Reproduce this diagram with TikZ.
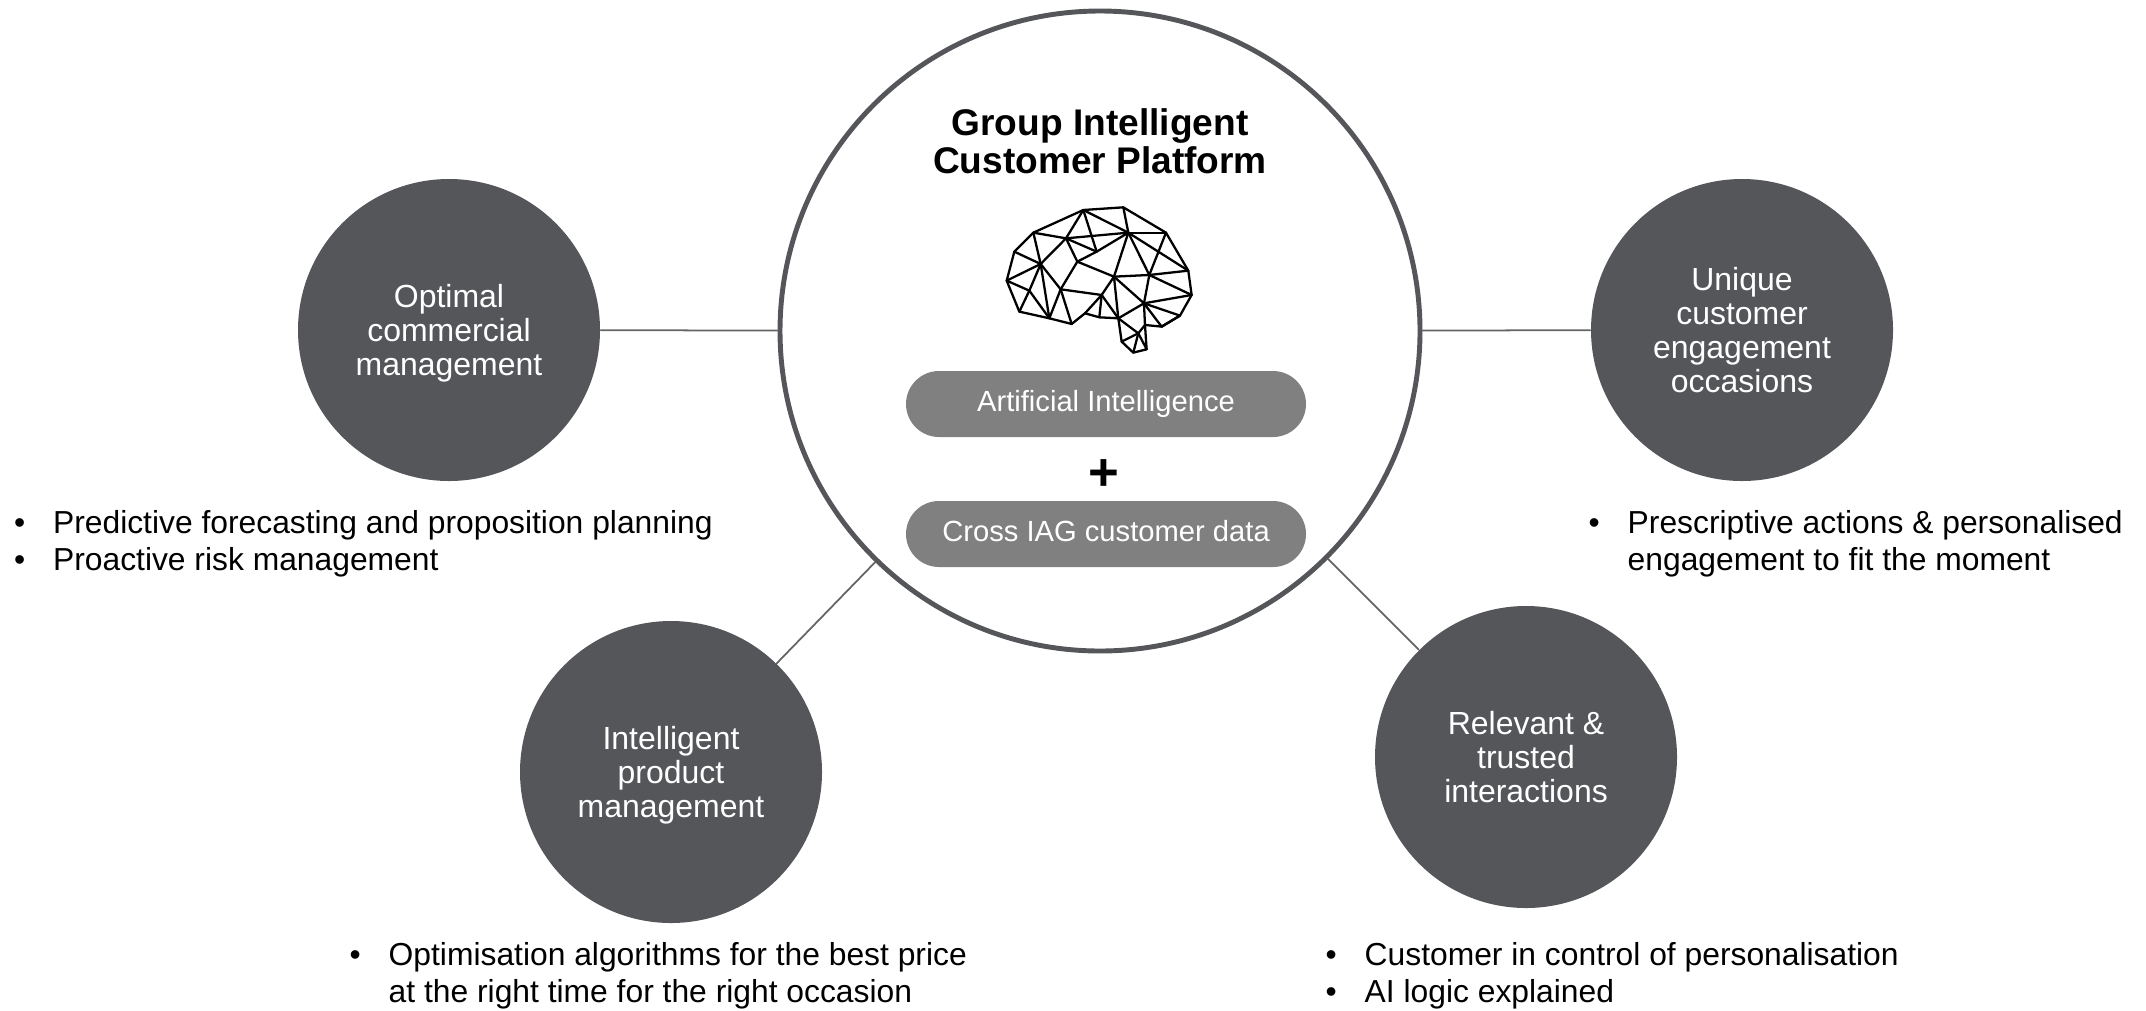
\documentclass[tikz,border=0pt]{standalone}
\usepackage{fontspec}
\setmainfont{Liberation Sans}
\usepackage{xcolor}

\definecolor{discgray}{RGB}{84,86,90}
\definecolor{pillgray}{RGB}{128,128,128}
\definecolor{linkgray}{RGB}{100,100,100}

\tikzset{
  disc/.style={circle,fill=discgray,minimum size=3.02cm,inner sep=0pt,
    text=white,text depth=0pt,align=center,font=\fontsize{9.1}{9.7}\selectfont},
  pill/.style={rectangle,rounded corners=3.3mm,fill=pillgray,minimum width=4cm,
    minimum height=0.66cm,text=white,text height=6.1pt,text depth=1.7pt,
    font=\fontsize{8.3}{10}\selectfont},
  link/.style={linkgray,line width=0.5pt},
  bullets/.style={anchor=north west,inner sep=0pt,align=left,
    font=\fontsize{9.05}{10.5}\selectfont},
  wire/.style={line width=0.65pt,line join=round},
}
\newcommand{\bul}{\makebox[0.39cm][l]{\textbullet}}

\begin{document}
\begin{tikzpicture}[line cap=round]
\useasboundingbox (0,0) rectangle (21.46,-10.10);

% central platform ring
\node[circle,draw=discgray,line width=1.4pt,minimum size=6.40cm] (gicp) at (11.00,-3.31) {};
\node[font=\fontsize{10.55}{10.8}\selectfont\bfseries,align=center] (title) at (11.00,-1.415)
  {Group Intelligent\\Customer Platform};

% brain icon
\begin{scope}[shift={(9.90,-1.90)},x=0.03333mm,y=-0.03333mm]
\foreach \n/\x/\y in {1/280/60,2/400/52,3/130/128,4/228/145,5/415/128,6/528/128,
    7/73/185,8/320/185,9/152/222,10/262/215,11/595/242,12/50/272,13/372/260,
    14/478/255,15/118/302,16/212/298,17/335/315,18/605/315,19/462/340,20/88/365,
    21/178/385,22/245/402,23/285/370,24/328/382,25/385/385,26/570/377,27/465/405,
    28/515/410,29/445/430,30/395/455,31/430/488,32/470/478}
  \coordinate (n\n) at (\x,\y);
% outline
\draw[wire] (n1) -- (n2) -- (n6) -- (n11) -- (n18) -- (n26) -- (n28) -- (n27) -- (n29)
  -- (n32) -- (n31) -- (n30) -- (n25) -- (n24) -- (n23) -- (n22) -- (n21) -- (n20)
  -- (n12) -- (n7) -- (n3) -- cycle;
% inner mesh
\foreach \a/\b in {2/5,1/4,1/8,1/5,3/4,4/5,5/6,3/9,7/9,4/9,4/8,4/10,8/10,8/5,
    10/13,10/16,5/13,5/14,5/11,6/14,13/14,14/11,9/12,9/15,12/15,15/20,15/21,9/16,
    9/21,16/21,16/22,16/17,13/17,13/19,13/25,14/19,14/18,18/19,17/23,17/24,17/25,
    19/25,19/27,19/26,19/28,25/29,29/30,29/31,27/32,26/28}
  \draw[wire] (n\a) -- (n\b);
\foreach \n in {1,...,32}
  \fill (n\n) circle (0.02);
\end{scope}

\node[pill] (ai) at (11.06,-4.04) {Artificial Intelligence};
\node[font=\fontsize{15}{15}\selectfont\bfseries] (plus) at (11.04,-4.75) {+};
\node[pill] (data) at (11.06,-5.34) {Cross IAG customer data};

% outer capabilities
\node[disc] (commercial) at (4.49,-3.30) {Optimal\\commercial\\management};
\node[disc] (engagement) at (17.42,-3.30) {Unique\\customer\\engagement\\occasions};
\node[disc] (product) at (6.71,-7.72) {Intelligent\\product\\management};
\node[disc] (interactions) at (15.26,-7.57) {Relevant \&\\trusted\\interactions};

\draw[link] (commercial) -- (gicp);
\draw[link] (engagement) -- (gicp);
\draw[link] (product) -- (gicp);
\draw[link] (interactions) -- (gicp);

% bullet lists
\node[bullets] (commercialtxt) at (0.134,-5.10)
  {\bul Predictive forecasting and proposition planning\\\bul Proactive risk management};
\node[bullets] (engagementtxt) at (15.88,-5.10)
  {\bul Prescriptive actions \& personalised\\\phantom{\bul}engagement to fit the moment};
\node[bullets] (producttxt) at (3.49,-9.42)
  {\bul Optimisation algorithms for the best price\\\phantom{\bul}at the right time for the right occasion};
\node[bullets] (interactionstxt) at (13.25,-9.42)
  {\bul Customer in control of personalisation\\\bul AI logic explained};
\end{tikzpicture}
\end{document}
